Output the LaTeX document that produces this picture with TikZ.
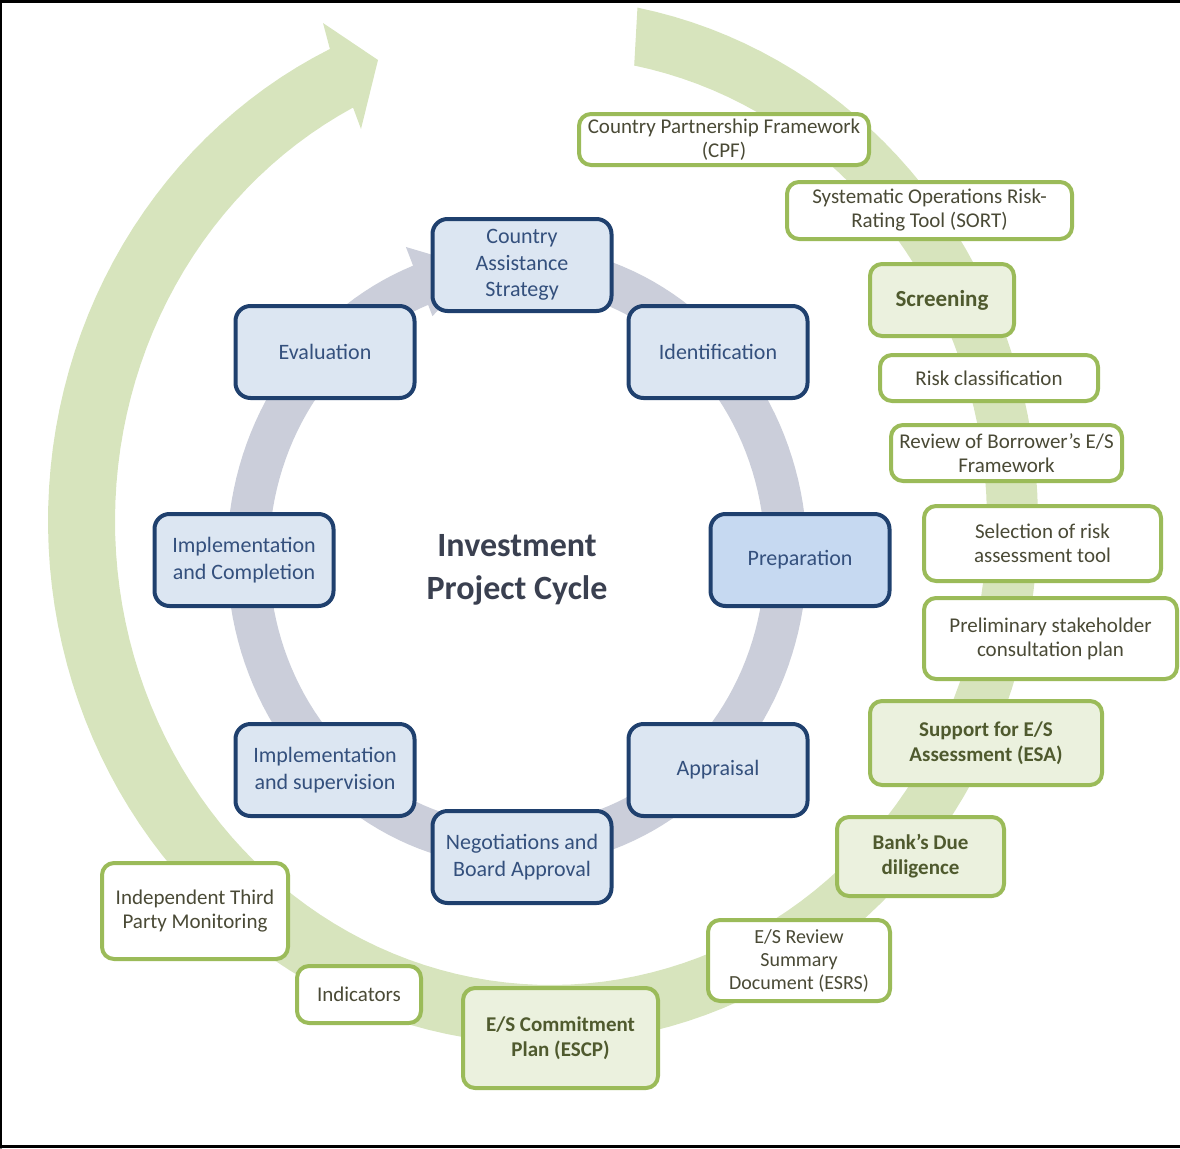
\documentclass[tikz,border=0pt]{standalone}
\usepackage{fontspec}
\setmainfont{Carlito}
\definecolor{bandgreen}{HTML}{D7E4BD}
\definecolor{ringgray}{HTML}{CBCEDA}
\definecolor{blueline}{HTML}{1F406E}
\definecolor{bluefill}{HTML}{DCE6F2}
\definecolor{prepfill}{HTML}{C6D9F1}
\definecolor{bluetext}{HTML}{34507D}
\definecolor{noteline}{HTML}{9BBB59}
\definecolor{notefill}{HTML}{EBF1DE}
\definecolor{notetext}{HTML}{4A4A36}
\definecolor{keytext}{HTML}{4F5A2E}
\definecolor{titletext}{HTML}{3A4050}

\begin{document}
\begin{tikzpicture}[x=1pt,y=-1pt,line join=round,line cap=round,
    stage/.style={draw=blueline,line width=4pt,fill=bluefill,rounded corners=15pt,
      minimum width=179pt,minimum height=92pt,inner sep=1pt,align=center,
      text=bluetext,font=\fontsize{22}{26.5}\selectfont},
    note/.style={draw=noteline,line width=4pt,fill=white,rounded corners=12pt,
      inner sep=1pt,align=center,text=notetext,font=\fontsize{21}{24}\selectfont},
    keynote/.style={note,fill=notefill,text=keytext,font=\fontsize{21}{25}\selectfont\bfseries}]
  \useasboundingbox (0,0) rectangle (1180,1148);

  \fill[bandgreen] plot[domain=-79:244.5,samples=150] ({543+495*cos(\x)},{521+523*sin(\x)})
    -- (323,23) -- (378,60) -- (361,129)
    -- plot[domain=243:-79,samples=150] ({551+436*cos(\x)},{521+464*sin(\x)}) -- cycle;

  \fill[ringgray] plot[domain=-75:249,samples=150] ({517+290*cos(\x)},{556+311*sin(\x)})
    -- ({517+310*cos(249)},{556+331*sin(249)}) -- ({517+269*cos(262)},{556+290*sin(262)})
    -- ({517+236*cos(249)},{556+257*sin(249)})
    -- plot[domain=249:-75,samples=150] ({517+248*cos(\x)},{556+269*sin(\x)}) -- cycle;

  \node[stage] (cas) at (522,265) {Country\\Assistance\\Strategy};
  \node[stage] (ident) at (718,352) {Identification};
  \node[stage,fill=prepfill] (prep) at (800,560) {Preparation};
  \node[stage] (appr) at (718,770) {Appraisal};
  \node[stage] (negot) at (522,857) {Negotiations and\\Board Approval};
  \node[stage] (implsup) at (325,770) {Implementation\\and supervision};
  \node[stage] (implcomp) at (244,560) {Implementation\\and Completion};
  \node[stage] (eval) at (325,352) {Evaluation};

  \node[align=center,text=titletext,font=\fontsize{34}{43}\selectfont\bfseries] (title) at (517,570) {Investment\\Project Cycle};

  \node[note,minimum width=290pt,minimum height=51pt] (cpf) at (724,139.5) {Country Partnership Framework\\(CPF)};
  \node[note,minimum width=285pt,minimum height=57pt] (sort) at (929.5,210.5) {Systematic Operations Risk-\\Rating Tool (SORT)};
  \node[keynote,minimum width=144pt,minimum height=72pt,font=\fontsize{23}{27}\selectfont\bfseries] (screen) at (942,300) {Screening};
  \node[note,minimum width=218pt,minimum height=46pt] (riskcls) at (989,378) {Risk classification};
  \node[note,minimum width=231pt,minimum height=56pt] (review) at (1006.5,453) {Review of Borrower’s E/S\\Framework};
  \node[note,minimum width=237pt,minimum height=75pt] (select) at (1042.5,543.5) {Selection of risk\\assessment tool};
  \node[note,minimum width=253pt,minimum height=81pt] (consult) at (1050.5,638.5) {Preliminary stakeholder\\consultation plan};
  \node[keynote,minimum width=232pt,minimum height=84pt] (esa) at (986,743) {Support for E/S\\Assessment (ESA)};
  \node[keynote,minimum width=167pt,minimum height=79pt] (duedil) at (920.5,856.5) {Bank’s Due\\diligence};
  \node[note,minimum width=182pt,minimum height=81pt,font=\fontsize{20}{23}\selectfont] (esrs) at (799,960.5) {E/S Review\\Summary\\Document (ESRS)};
  \node[keynote,minimum width=195pt,minimum height=100pt] (escp) at (560.5,1038) {E/S Commitment\\Plan (ESCP)};
  \node[note,minimum width=124pt,minimum height=57pt] (indic) at (359,994.5) {Indicators};
  \node[note,minimum width=186pt,minimum height=96pt] (tpm) at (195,911) {Independent Third\\Party Monitoring};

  \draw[line width=3pt] (0,1.5) -- (1180,1.5);
  \draw[line width=1.5pt] (0.75,0) -- (0.75,1148);
  \draw[line width=2.5pt] (0,1146.5) -- (1180,1146.5);
\end{tikzpicture}
\end{document}
